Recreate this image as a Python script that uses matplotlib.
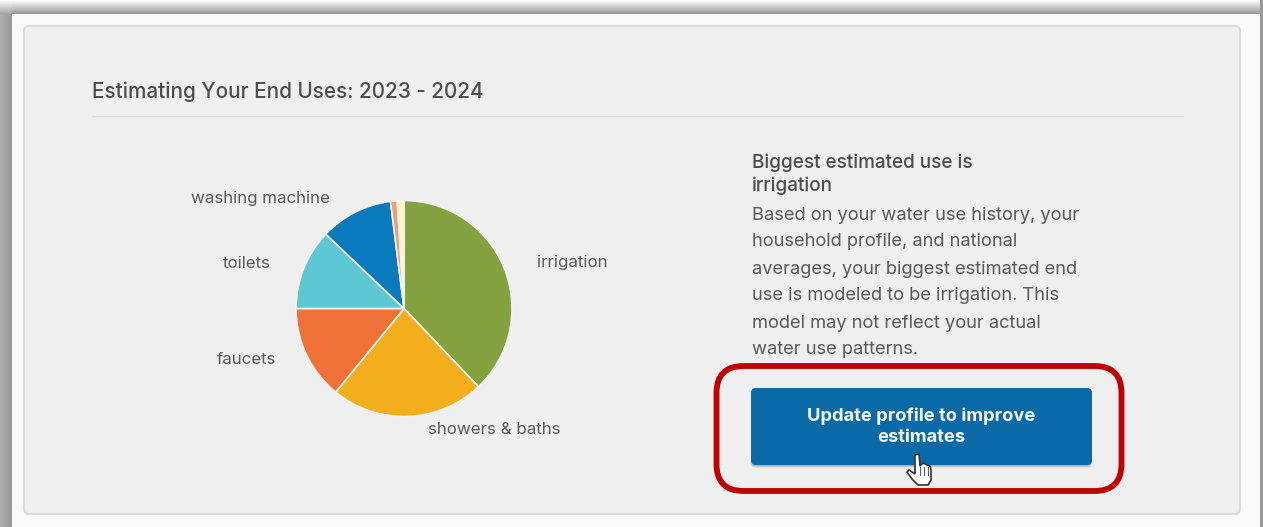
import numpy as np
import matplotlib
matplotlib.use('Agg')
import matplotlib.pyplot as plt
from matplotlib.patches import FancyBboxPatch, Rectangle, Polygon

plt.rcParams['font.family'] = ['Inter', 'DejaVu Sans']

uses = ['irrigation', 'showers & baths', 'faucets', 'toilets', 'washing machine', 'other', 'leaks']
shares = [37.9, 23.0, 14.1, 12.1, 10.9, 1.0, 1.0]
pie_colors = ['#84A23F', '#F2AE1C', '#F07137', '#5EC7D5', '#0A7ABF', '#F59B6E', '#FFF7C2']

title = 'Estimating Your End Uses: 2023 - 2024'
heading = ['Biggest estimated use is', 'irrigation']
body = ['Based on your water use history, your',
        'household profile, and national',
        'averages, your biggest estimated end',
        'use is modeled to be irrigation. This',
        'model may not reflect your actual',
        'water use patterns.']
button = ['Update profile to improve', 'estimates']

W, H = 1263, 527
fig = plt.figure(figsize=(W / 100, H / 100), dpi=100, facecolor='white')
ax = fig.add_axes([0, 0, 1, 1])
ax.set_xlim(0, W)
ax.set_ylim(H, 0)
ax.axis('off')

# window shadow
shade = np.ones((H, W))
shade[:14, :] = np.linspace(0.99, 0.6, 14)[:, None]
shade[:, :12] = np.minimum(shade[:, :12], np.linspace(0.68, 0.6, 12)[None, :])
shade[:, 1260:] = 0.6
shade[:14, :12] = np.linspace(0.99, 0.65, 14)[:, None]
ax.imshow(shade, cmap='gray', vmin=0, vmax=1, extent=(0, W, H, 0), aspect='auto', zorder=0)
ax.add_patch(Rectangle((12, 14), 1248, H - 14, fc='#F9F9F9', ec='none', zorder=1))

# panel
ax.add_patch(FancyBboxPatch((24, 26), 1216, 488, boxstyle='round,pad=0,rounding_size=5',
                            fc='#EFEFEF', ec='#DADADA', lw=1.5, zorder=2))

ax.text(92, 92, title, fontsize=14.9, fontweight='medium', color='#4D4D4F', va='center', zorder=3)
ax.plot([92, 1183], [115.5, 115.5], color='#DCDCDC', lw=1, zorder=3)

# pie
pie_ax = fig.add_axes([296 / W, (H - 416.5) / H, 216 / W, 216 / H])
pie_ax.pie(shares, colors=pie_colors, startangle=90, counterclock=False,
           wedgeprops={'edgecolor': '#F4F4F4', 'linewidth': 1.2})
pie_ax.set_xlim(-1, 1)
pie_ax.set_ylim(-1, 1)
for name, x, y in [(uses[0], 537, 263), (uses[1], 428, 429), (uses[2], 217, 359),
                   (uses[3], 223, 263), (uses[4], 191, 199)]:
    ax.text(x, y, name, fontsize=12.2, color='#58595B', va='center', zorder=3)

# right column
for line, y in zip(heading, [163, 186]):
    ax.text(752, y, line, fontsize=13.6, fontweight='medium', color='#4D4D4F', va='center', zorder=3)
for i, line in enumerate(body):
    ax.text(752, 215 + i * 27, line, fontsize=13.2, color='#58595B', va='center', zorder=3)

# button
for off, a in [(3, 0.10), (2, 0.15), (1, 0.25)]:
    ax.add_patch(FancyBboxPatch((751, 388 + off), 341, 77, boxstyle='round,pad=0,rounding_size=5',
                                fc='#555555', ec='none', alpha=a, zorder=3))
ax.add_patch(FancyBboxPatch((751, 388), 341, 77, boxstyle='round,pad=0,rounding_size=5',
                            fc='#0A6AA8', ec='none', zorder=4))
for line, y in zip(button, [416.5, 437]):
    ax.text(921.5, y, line, fontsize=13.2, fontweight='bold', color='#F4FAFF',
            ha='center', va='center', zorder=5)

# highlight box
ax.add_patch(FancyBboxPatch((716.5, 366), 405, 125, boxstyle='round,pad=0,rounding_size=27',
                            fc='none', ec='#C00000', lw=4.2, zorder=6))

# hand cursor
hand = [(915, 455), (919, 454), (920, 466), (923, 463), (927, 465), (930, 466), (931, 470),
        (931, 480), (928, 485), (918, 485), (912, 479), (907, 472), (909, 470), (915, 474)]
ax.add_patch(Polygon(hand, closed=True, fc='white', ec='#333333', lw=1.2, zorder=7))
for x in [919.5, 923.5, 927.5]:
    ax.plot([x, x], [467, 475], color='#555555', lw=0.7, zorder=8)

fig.savefig('out.png', dpi=100, facecolor='white')
